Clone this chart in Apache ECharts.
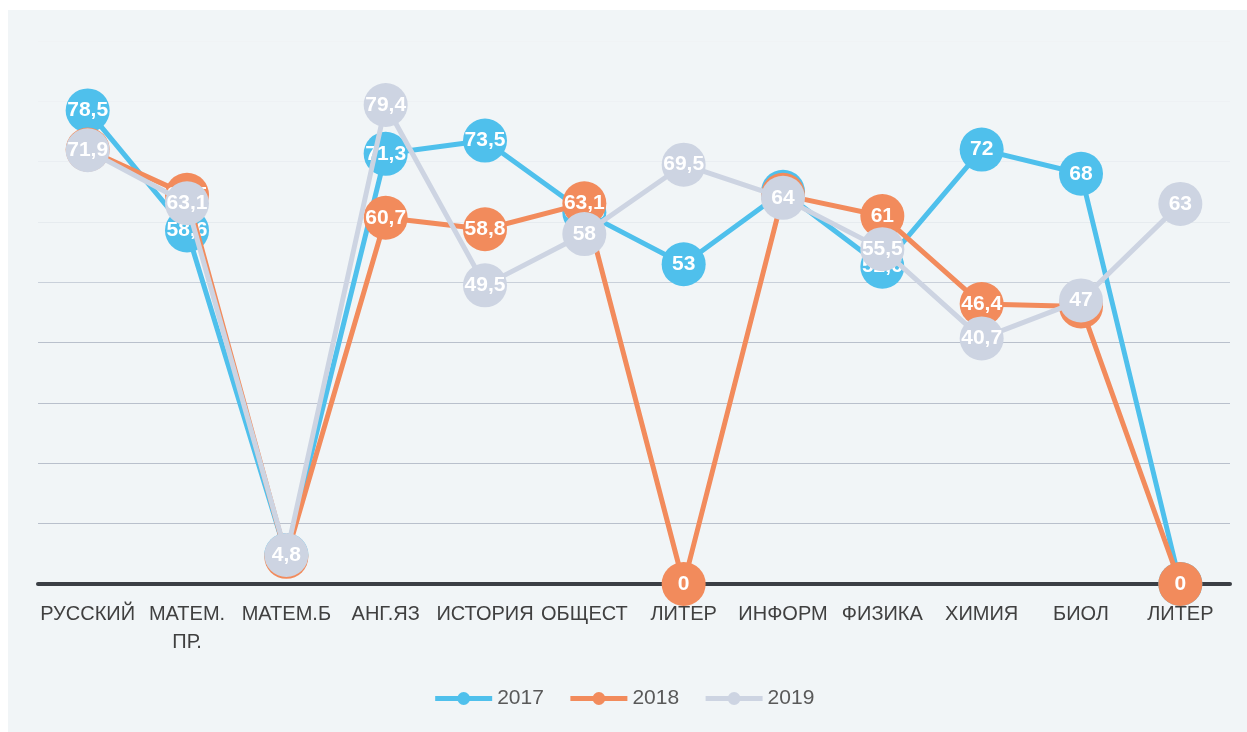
<!DOCTYPE html>
<html>
<head>
<meta charset="utf-8">
<script src="https://cdn.jsdelivr.net/npm/echarts@6/dist/echarts.min.js"></script>
<style>
html,body{margin:0;padding:0;background:#ffffff;}
#chart{width:1247px;height:732px;}
</style>
</head>
<body>
<div id="chart"></div>
<script>
const categories = ['РУССКИЙ','МАТЕМ.\nПР.','МАТЕМ.Б','АНГ.ЯЗ','ИСТОРИЯ','ОБЩЕСТ','ЛИТЕР','ИНФОРМ','ФИЗИКА','ХИМИЯ','БИОЛ','ЛИТЕР'];
const seriesNames = ['2017','2018','2019'];
const values2017 = [78.5, 58.6, 4.8, 71.3, 73.5, 61.6, 53, 65, 52.6, 72, 68, 0];
const values2018 = [72, 64.5, 4.5, 60.7, 58.8, 63.1, 0, 64.5, 61, 46.4, 46, 0];
const values2019 = [71.9, 63.1, 4.8, 79.4, 49.5, 58, 69.5, 64, 55.5, 40.7, 47, 63];
const yTicks = [0, 10, 20, 30, 40, 50, 60, 70, 80, 90];

const colors = ['#4fc0ec', '#f28b5c', '#cdd4e2'];
const allValues = [values2017, values2018, values2019];

const chart = echarts.init(document.getElementById('chart'), null, {renderer: 'canvas'});

function makeSeries(i) {
  return {
    name: seriesNames[i],
    type: 'line',
    data: allValues[i],
    symbol: 'circle',
    symbolSize: 44,
    showAllSymbol: true,
    lineStyle: {color: colors[i], width: 5},
    itemStyle: {color: colors[i], borderWidth: 0},
    emphasis: {disabled: true},
    label: {
      show: true,
      position: 'inside',
      color: '#ffffff',
      fontFamily: 'Liberation Sans',
      fontWeight: 'bold',
      fontSize: 21,
      formatter: p => String(p.value).replace('.', ',')
    },
    z: 2 + i
  };
}

const option = {
  backgroundColor: '#ffffff',
  animation: false,
  graphic: [{
    type: 'rect',
    left: 8, top: 10,
    shape: {width: 1239, height: 722},
    style: {fill: '#f1f5f7'},
    z: -10, silent: true
  }],
  legend: {
    data: seriesNames,
    bottom: 18,
    left: 'center',
    itemWidth: 57,
    itemHeight: 16,
    itemGap: 24,
    lineStyle: {width: 5},
    textStyle: {fontFamily: 'Liberation Sans', fontSize: 21, color: '#595959'}
  },
  grid: {left: 38, right: 17, top: 41, bottom: 148, containLabel: false},
  xAxis: {
    type: 'category',
    data: categories,
    boundaryGap: true,
    axisLine: {show: true, lineStyle: {color: '#3b3f45', width: 4}},
    axisTick: {show: false},
    axisLabel: {
      interval: 0,
      margin: 16,
      fontFamily: 'Liberation Sans',
      fontSize: 20,
      color: '#404040',
      lineHeight: 28,
      verticalAlign: 'top'
    }
  },
  yAxis: {
    type: 'value',
    min: yTicks[0],
    max: yTicks[yTicks.length - 1],
    interval: 10,
    axisLine: {show: false},
    axisTick: {show: false},
    axisLabel: {show: false},
    splitLine: {
      show: true,
      lineStyle: {
        color: ['#b9c0cc','#b9c0cc','#b9c0cc','#b9c0cc','#b9c0cc','#c9d0da','#e6ebef','#eaeef2','#eef1f4','#f0f3f5'],
        width: 1
      }
    }
  },
  series: [makeSeries(0), makeSeries(1), makeSeries(2)]
};

chart.setOption(option);
</script>
</body>
</html>
